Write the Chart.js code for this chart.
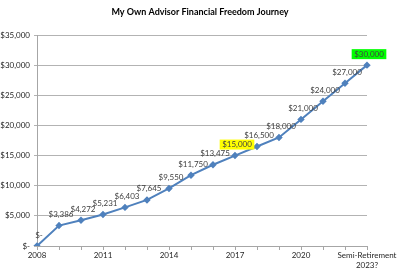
<!DOCTYPE html>
<html>
<head>
<meta charset="utf-8">
<script src="https://cdn.jsdelivr.net/npm/chart.js@4"></script>
<style>
html,body{margin:0;padding:0;background:#fff;}
#wrap{width:400px;height:279px;position:relative;}
</style>
</head>
<body>
<div id="wrap"><canvas id="c" width="400" height="279"></canvas></div>
<script>
const title = 'My Own Advisor Financial Freedom Journey';
const categories = ['2008','2009','2010','2011','2012','2013','2014','2015','2016','2017','2018','2019','2020','2021','2022',['Semi-Retirement','2023?']];
const values = [0,3386,4272,5231,6403,7645,9550,11750,13475,15000,16500,18000,21000,24000,27000,30000];
const yTicks = [0,5000,10000,15000,20000,25000,30000,35000];
const highlights = {9:'#ffff00', 15:'#00ff00'};

const fmt = v => v === 0 ? '$-' : '$' + v.toLocaleString('en-US');
const FONT = 'Lato, "Liberation Sans", sans-serif';

const labelPlugin = {
  id: 'dataLabels',
  afterDatasetsDraw(chart) {
    const ctx = chart.ctx;
    const meta = chart.getDatasetMeta(0);
    ctx.save();
    ctx.font = '8px ' + FONT;
    ctx.textAlign = 'center';
    ctx.textBaseline = 'middle';
    meta.data.forEach((pt, i) => {
      const txt = fmt(values[i]);
      const x = pt.x + 2;
      const y = pt.y - 11;
      if (highlights[i]) {
        const w = ctx.measureText(txt).width + 5;
        ctx.fillStyle = highlights[i];
        ctx.fillRect(x - w / 2, y - 5, w, 10);
      }
      ctx.fillStyle = '#404040';
      ctx.fillText(txt, x, y);
    });
    ctx.restore();
  }
};

const titlePlugin = {
  id: 'centeredTitle',
  afterDraw(chart) {
    const ctx = chart.ctx;
    ctx.save();
    ctx.font = 'bold 9px ' + FONT;
    ctx.fillStyle = '#000';
    ctx.textAlign = 'center';
    ctx.textBaseline = 'middle';
    ctx.fillText(title, chart.width / 2, 12);
    ctx.restore();
  }
};

new Chart(document.getElementById('c'), {
  type: 'line',
  data: {
    labels: categories,
    datasets: [{
      data: values,
      borderColor: '#4f81bd',
      backgroundColor: '#4f81bd',
      borderWidth: 2,
      pointStyle: 'rectRot',
      pointRadius: 2.3,
      pointHoverRadius: 2.3,
      tension: 0,
      fill: false
    }]
  },
  options: {
    responsive: false,
    animation: false,
    events: [],
    layout: { padding: { left: 0, right: 33, top: 35, bottom: 0 } },
    plugins: {
      legend: { display: false },
      tooltip: { enabled: false },
      title: { display: false }
    },
    scales: {
      x: {
        offset: false,
        grid: { drawOnChartArea: false, drawTicks: true, tickLength: 4, color: '#a6a6a6' },
        border: { display: true, color: '#a6a6a6' },
        ticks: {
          autoSkip: false,
          maxRotation: 0,
          padding: 1,
          color: '#262626',
          font: { family: FONT, size: 8 },
          callback: function(v, i) { return i % 3 === 0 ? categories[i] : ''; }
        },
        afterFit: s => { s.height = 33; }
      },
      y: {
        min: 0,
        max: 35000,
        afterBuildTicks: s => { s.ticks = yTicks.map(v => ({ value: v })); },
        grid: { color: '#b3b3b3', drawTicks: true, tickLength: 3 },
        border: { display: true, color: '#a6a6a6' },
        ticks: {
          padding: 4,
          color: '#262626',
          font: { family: FONT, size: 8 },
          callback: v => fmt(v)
        },
        afterFit: s => { s.width = 37; }
      }
    }
  },
  plugins: [labelPlugin, titlePlugin]
});
</script>
</body>
</html>
